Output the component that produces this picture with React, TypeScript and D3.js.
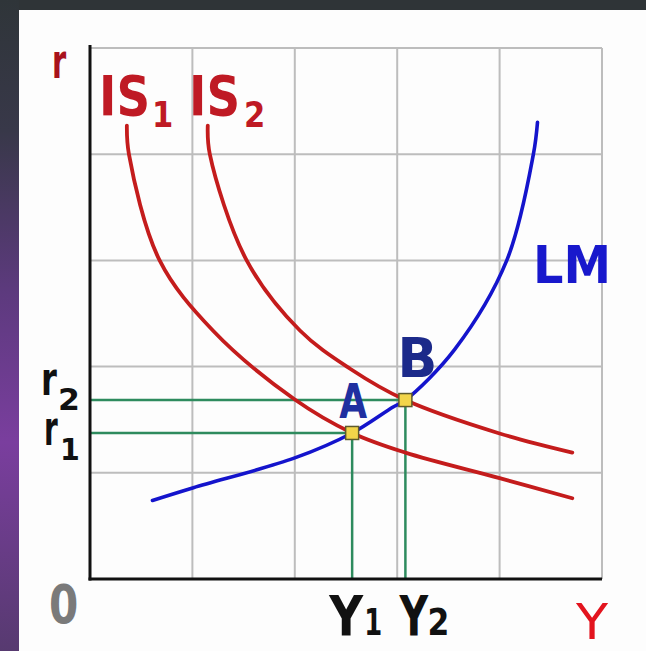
import React from 'react';
import * as d3 from 'd3';

// curve points in grid units (5 x 5 grid)
const is1Points: [number, number][] = [
  [0.36, 4.27], [0.38, 4.0], [0.68, 3.0], [1.2, 2.34],
  [2.0, 1.69], [2.56, 1.375], [3.08, 1.19], [4.0, 0.95], [4.71, 0.76],
];
const is2Points: [number, number][] = [
  [1.15, 4.27], [1.17, 4.0], [1.53, 3.0], [2.05, 2.34], [2.54, 1.98],
  [3.08, 1.685], [4.0, 1.37], [4.71, 1.19],
];
const lmPoints: [number, number][] = [
  [0.61, 0.74], [1.01, 0.86], [2.0, 1.14], [2.56, 1.375], [2.96, 1.62],
  [3.08, 1.685], [3.56, 2.16], [4.07, 3.0], [4.33, 4.0], [4.37, 4.3],
];
const equilibria = [
  { name: 'A', x: 2.56, y: 1.375 },
  { name: 'B', x: 3.08, y: 1.685 },
];
const gridTicks = [1, 2, 3, 4, 5];

const W = 646;
const H = 651;
const FONT = 'DejaVu Sans, Verdana, sans-serif';

function Label({ x, y, text, size, sx = 1, fill = '#111', weight = 'bold' }: {
  x: number; y: number; text: string; size: number; sx?: number; fill?: string; weight?: string;
}) {
  return (
    <text
      transform={`translate(${x},${y}) scale(${sx},1)`}
      fontFamily={FONT}
      fontWeight={weight}
      fontSize={size}
      fill={fill}
    >
      {text}
    </text>
  );
}

export default function App() {
  const x = d3.scaleLinear().domain([0, 5]).range([90, 602]);
  const y = d3.scaleLinear().domain([0, 5]).range([579, 48]);

  const line = d3.line<[number, number]>()
    .x(d => x(d[0]))
    .y(d => y(d[1]))
    .curve(d3.curveCatmullRom.alpha(0.5));

  const [A, B] = equilibria;

  return (
    <svg width={W} height={H} style={{ position: 'absolute', left: 0, top: 0, display: 'block' }}>
      <defs>
        <linearGradient id="side" x1="0" y1="0" x2="0" y2="1">
          <stop offset="0" stopColor="#2f3539" />
          <stop offset="0.2" stopColor="#383849" />
          <stop offset="0.45" stopColor="#5d3a7e" />
          <stop offset="0.68" stopColor="#7a3e9e" />
          <stop offset="1" stopColor="#573a70" />
        </linearGradient>
      </defs>
      <rect x={0} y={0} width={W} height={H} fill="#2f3437" />
      <rect x={0} y={0} width={19} height={H} fill="url(#side)" />
      <rect x={19} y={10} width={W - 19} height={H - 10} fill="#fdfdfd" />

      {/* grid */}
      <g stroke="#bdbdbd" strokeWidth={2}>
        {gridTicks.map(t => (
          <line key={'v' + t} x1={x(t)} x2={x(t)} y1={y(0)} y2={y(5)} />
        ))}
        {gridTicks.map(t => (
          <line key={'h' + t} x1={x(0)} x2={x(5)} y1={y(t)} y2={y(t)} />
        ))}
      </g>

      {/* guide lines to equilibria */}
      <g stroke="#2e8b5e" strokeWidth={2.5}>
        {equilibria.map(p => (
          <g key={p.name}>
            <line x1={x(0)} x2={x(p.x)} y1={y(p.y)} y2={y(p.y)} />
            <line x1={x(p.x)} x2={x(p.x)} y1={y(p.y)} y2={y(0)} />
          </g>
        ))}
      </g>

      {/* curves */}
      <g fill="none" strokeLinecap="round" strokeLinejoin="round">
        <path d={line(is1Points) ?? ''} stroke="#c41c1c" strokeWidth={3.8} />
        <path d={line(is2Points) ?? ''} stroke="#c41c1c" strokeWidth={3.8} />
        <path d={line(lmPoints) ?? ''} stroke="#1414cc" strokeWidth={3.6} />
      </g>

      {/* axes */}
      <g stroke="#111" strokeWidth={3}>
        <line x1={x(0)} x2={x(0)} y1={45} y2={y(0) + 1.5} />
        <line x1={x(0) - 1.5} x2={x(5)} y1={y(0)} y2={y(0)} />
      </g>

      {/* equilibrium points */}
      {equilibria.map(p => (
        <rect key={p.name} x={x(p.x) - 6.5} y={y(p.y) - 6.5} width={13} height={13}
          fill="#f2d54a" stroke="#5d5a2c" strokeWidth={1.5} />
      ))}

      {/* labels */}
      <Label x={52} y={78} text="r" size={48} sx={0.6} fill="#a8121c" />
      <Label x={99} y={115} text="IS" size={55} sx={0.85} fill="#bf1a24" />
      <Label x={152} y={127} text="1" size={36} sx={0.85} fill="#bf1a24" />
      <Label x={189} y={115} text="IS" size={55} sx={0.85} fill="#bf1a24" />
      <Label x={244} y={127} text="2" size={36} sx={0.85} fill="#bf1a24" />
      <Label x={533} y={283} text="LM" size={52} sx={0.92} fill="#1818cc" />
      <Label x={x(B.x) - 8} y={377} text="B" size={55} sx={0.95} fill="#1c2a8a" />
      <Label x={x(A.x) - 13} y={418} text="A" size={48} sx={0.75} fill="#2030a0" />

      <Label x={41} y={395} text="r" size={46} sx={0.7} />
      <Label x={58} y={410} text="2" size={30} sx={1.05} />
      <Label x={44} y={445} text="r" size={48} sx={0.58} />
      <Label x={60} y={460} text="1" size={30} sx={0.95} />

      <Label x={49} y={623} text="0" size={54} sx={0.78} fill="#7a7a7a" />
      <Label x={x(A.x) - 23} y={635} text="Y" size={55} sx={0.85} />
      <Label x={x(A.x) + 12} y={635} text="1" size={37} sx={0.7} />
      <Label x={x(B.x) - 6} y={635} text="Y" size={55} sx={0.72} />
      <Label x={x(B.x) + 22} y={635} text="2" size={37} sx={0.85} />
      <Label x={576} y={639} text="Y" size={50} sx={1.05} fill="#e3141e" weight="normal" />
    </svg>
  );
}
